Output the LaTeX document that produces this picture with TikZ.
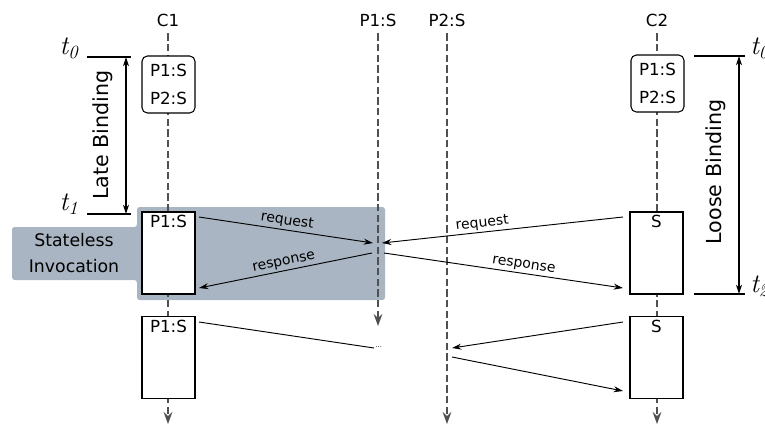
\documentclass[tikz,border=0pt]{standalone}
\usepackage{fontspec}
\newfontfamily\dv{DejaVu Sans}
\usetikzlibrary{arrows.meta}
\definecolor{shade}{HTML}{A9B5C2}
\definecolor{lifegray}{HTML}{505050}
\begin{document}
\begin{tikzpicture}[x=0.75pt,y=-0.75pt,
  lifeline/.style={draw=lifegray, line width=1.2pt, dash pattern=on 5.5pt off 2.5pt, -{Stealth[length=9pt,width=6.5pt,inset=3pt]}},
  msg/.style={draw=black, line width=0.7pt, -{Stealth[length=7pt,width=4.5pt]}},
  plainmsg/.style={draw=black, line width=0.7pt},
  actbox/.style={draw, line width=1.1pt, fill=white, minimum width=39.75pt, minimum height=61.5pt, inner sep=0pt},
  statebox/.style={draw, line width=0.8pt, rounded corners=4pt, fill=white, minimum width=39.75pt, minimum height=42.75pt, align=center, inner sep=0pt, font=\dv\fontsize{12.5}{21}\selectfont},
  head/.style={font=\dv\fontsize{12.5}{14}\selectfont, inner sep=1pt},
  boxlabel/.style={font=\dv\fontsize{12.5}{14}\selectfont, anchor=north, inner sep=1pt},
  msglabel/.style={font=\dv\fontsize{10.5}{12}\selectfont, sloped, inner sep=1.5pt},
  tlabel/.style={font=\fontsize{20}{22}\selectfont, inner sep=0pt},
  bindlabel/.style={font=\dv\fontsize{15.5}{17}\selectfont, rotate=90, inner sep=0pt},
  tline/.style={draw=black, line width=0.8pt},
  span/.style={draw=black, line width=0.8pt, {Stealth[length=7pt,width=4.5pt]}-{Stealth[length=7pt,width=4.5pt]}}
]
\useasboundingbox (0,0) rectangle (765,430);

% shaded region
\path[fill=shade, rounded corners=2pt] (137,207) -- (385,207) -- (385,300) -- (137,300) -- (137,280) -- (12,280) -- (12,227) -- (137,227) -- cycle;
\node[font=\dv\fontsize{13}{19}\selectfont, align=center] (stateless) at (74,253) {Stateless\\Invocation};

% lifeline heads
\node[head] (hc1) at (168,20) {C1};
\node[head] (hp1) at (378,20) {P1:S};
\node[head] (hp2) at (447,20) {P2:S};
\node[head] (hc2) at (657,20) {C2};
\coordinate (c1end) at (168,424);
\coordinate (p1end) at (378,326);
\coordinate (p2end) at (447,424);
\coordinate (c2end) at (657,424);
\draw[lifeline] ([yshift=-4pt]hc1.south) -- (c1end);
\draw[lifeline] ([yshift=-4pt]hp1.south) -- (p1end);
\draw[lifeline] ([yshift=-4pt]hp2.south) -- (p2end);
\draw[lifeline] ([yshift=-4pt]hc2.south) -- (c2end);

% state boxes
\node[statebox] (s1) at (168.5,84.5) {P1:S\\P2:S};
\node[statebox] (s2) at (657.5,83.5) {P1:S\\P2:S};

% activation boxes
\node[actbox] (a1) at (168.5,253) {};
\node[boxlabel] (a1l) at ([yshift=-2pt]a1.north) {P1:S};
\node[actbox] (a2) at (168.5,357.5) {};
\node[boxlabel] (a2l) at ([yshift=-2pt]a2.north) {P1:S};
\node[actbox] (b1) at (656.5,253) {};
\node[boxlabel] (b1l) at ([yshift=-2pt]b1.north) {S};
\node[actbox] (b2) at (656.5,357.5) {};
\node[boxlabel] (b2l) at ([yshift=-2pt]b2.north) {S};

% message points
\coordinate (r1s) at (199,217);
\coordinate (r1e) at (373,243);
\coordinate (p1in) at (372,253);
\coordinate (a1in) at (199,288);
\coordinate (r2s) at (623,217);
\coordinate (r2e) at (382,243);
\coordinate (p1out) at (384,253);
\coordinate (b1in) at (623,288);
\coordinate (l1s) at (199,322);
\coordinate (l1e) at (374,348);
\coordinate (l2s) at (623,322);
\coordinate (p2in) at (452,348);
\coordinate (p2out) at (452,357);
\coordinate (b2in) at (623,391);

\draw[msg] (r1s) -- node[msglabel, above, pos=0.5] {request} (r1e);
\draw[msg] (p1in) -- node[msglabel, above, pos=0.5] {response} (a1in);
\draw[msg] (r2s) -- node[msglabel, above, pos=0.58] {request} (r2e);
\draw[msg] (p1out) -- node[msglabel, above, pos=0.58] {response} (b1in);
\draw[plainmsg] (l1s) -- (l1e);
\node[font=\dv\fontsize{5}{6}\selectfont, anchor=west, inner sep=0pt] (dots) at ([xshift=1pt,yshift=1pt]l1e) {...};
\draw[msg] (l2s) -- (p2in);
\draw[msg] (p2out) -- (b2in);

% left time annotations
\coordinate (lt0a) at (87,57);
\coordinate (lt0b) at (131,57);
\coordinate (lt1a) at (87,214);
\coordinate (lt1b) at (131,214);
\draw[tline] (lt0a) -- (lt0b);
\draw[tline] (lt1a) -- (lt1b);
\coordinate (lv0) at (126,57);
\coordinate (lv1) at (126,214);
\draw[span] (lv0) -- (lv1);
\node[tlabel] (t0l) at (69,48) {$\mathit{t}_{\mathit{0}}$};
\node[tlabel] (t1l) at (69,204) {$\mathit{t}_{\mathit{1}}$};
\node[bindlabel] (late) at (103,135) {Late Binding};

% right time annotations
\coordinate (rt0a) at (694,56);
\coordinate (rt0b) at (745,56);
\coordinate (rt2a) at (694,294);
\coordinate (rt2b) at (745,294);
\draw[tline] (rt0a) -- (rt0b);
\draw[tline] (rt2a) -- (rt2b);
\coordinate (rv0) at (739,56);
\coordinate (rv2) at (739,294);
\draw[span] (rv0) -- (rv2);
\node[tlabel, anchor=west] (t0r) at (750,48) {$\mathit{t}_{\mathit{0}}$};
\node[tlabel, anchor=west] (t2r) at (750,286) {$\mathit{t}_{\mathit{2}}$};
\node[bindlabel] (loose) at (716,172) {Loose Binding};
\end{tikzpicture}
\end{document}
